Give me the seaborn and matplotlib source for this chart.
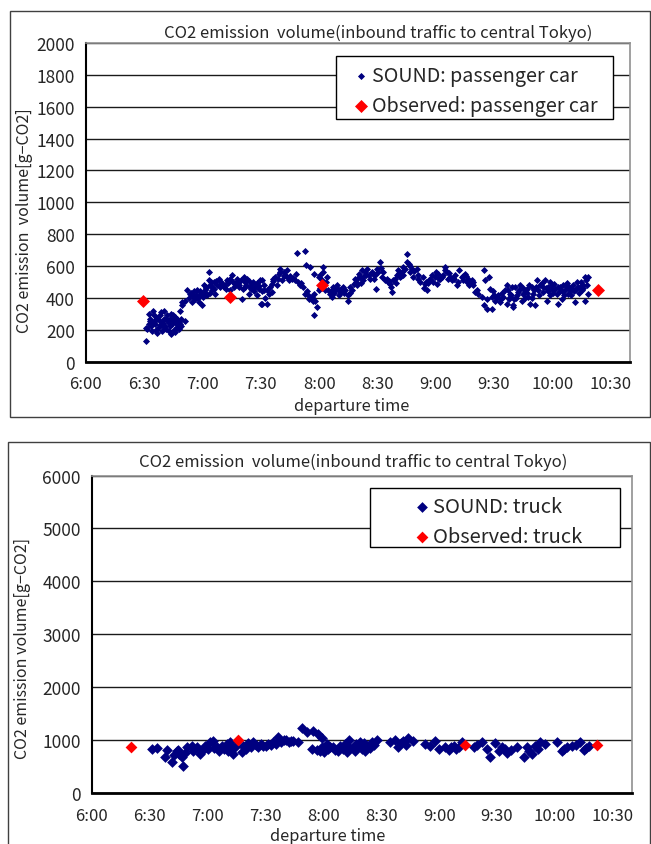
import matplotlib
matplotlib.use("Agg")
import matplotlib.pyplot as plt
import seaborn as sns
from matplotlib.patches import Rectangle

# departure time is stored as minutes after 6:00
car_min = [
    30.9, 32.2, 34.3, 38.7, 33.1, 35.7, 31.4, 33.9, 37.4, 40.0, 41.7, 43.9, 46.0, 47.7, 42.5, 46.0,
    40.8, 44.2, 38.2, 36.5, 39.1, 32.2, 46.8, 48.5, 50.7, 43.4, 34.8,
    31.0, 32.8, 35.2, 36.0, 37.9, 39.5, 41.0, 42.0, 43.0, 44.8, 45.5, 47.0, 48.0, 36.8, 44.0, 40.3,
    33.5, 38.0, 41.2, 45.0, 47.3, 49.0,
    48.5, 49.4, 49.4, 51.1, 52.0, 53.7, 54.5, 56.2, 57.1, 58.0, 59.7, 59.7, 61.4, 60.5, 63.1, 63.4,
    62.2, 64.8, 65.7, 67.4, 68.2, 66.5, 70.0, 70.8, 72.5, 75.1, 74.2, 76.8, 78.5, 79.9, 81.1, 82.8,
    83.7, 85.4, 87.1, 88.0, 90.2, 89.7, 91.4, 80.2,
    52.8, 54.0, 55.0, 56.8, 57.8, 58.8, 60.0, 61.0, 62.0, 63.8, 64.0, 65.0, 66.0, 67.0, 68.9, 69.5,
    71.5, 72.0, 73.3, 74.0, 75.8, 76.0, 77.5, 78.0, 79.0, 80.8, 81.8, 82.0, 84.0, 84.5, 86.0, 86.5,
    87.9, 88.8, 90.8,
    90.5, 91.4, 90.5, 93.1, 94.0, 93.1, 95.7, 95.7, 97.4, 99.1, 100.0, 101.7, 100.8, 98.2, 103.7,
    103.4, 106.0, 107.7, 108.2, 110.2, 108.5, 112.8, 113.3, 115.4, 112.8, 114.5, 116.2, 118.0, 118.8,
    117.4, 117.1, 117.1, 119.7, 122.2, 121.9, 124.0, 121.4, 119.7, 123.1, 125.7, 126.5, 128.2, 129.1,
    130.8, 130.0, 132.5, 133.4, 134.6, 135.1, 136.0, 137.7, 138.5, 140.3, 142.0, 143.7, 144.5, 147.1,
    148.8, 149.7, 151.1, 152.3, 154.0, 149.3, 139.4, 142.8,
    92.0, 94.8, 96.5, 98.9, 102.0, 104.5, 105.0, 109.0, 111.5, 113.8, 115.0, 116.8, 120.5, 121.0,
    124.8, 127.0, 127.8, 131.5, 133.0, 136.8, 139.0, 141.0, 141.5, 143.0, 145.5, 146.0, 148.0, 150.5,
    153.0,
    154.8, 156.5, 157.4, 158.2, 160.0, 160.8, 161.7, 162.5, 163.4, 165.1, 165.1, 166.0, 167.7, 168.5,
    170.3, 171.1, 173.7, 174.5, 175.4, 176.3, 178.0, 179.7, 180.5, 181.4, 183.1, 184.8, 185.7, 187.4,
    188.3, 190.0, 190.8, 192.0, 193.4, 195.1, 196.0, 196.8, 198.6, 199.4, 200.3, 202.0, 203.7, 205.1,
    205.4, 207.5, 208.0, 206.3, 204.6, 206.3, 208.8, 208.8, 210.6, 212.3, 213.1, 214.8, 215.7, 216.6,
    218.3, 219.1, 220.0, 220.5,
    155.5, 157.0, 159.0, 159.5, 161.0, 163.0, 164.0, 167.0, 169.0, 172.0, 174.0, 176.0, 177.0, 178.8,
    180.0, 182.0, 183.8, 186.5, 187.0, 189.0, 191.5, 194.0, 195.5, 197.5, 199.0, 201.0, 209.5, 211.5,
    214.0, 217.5,
    216.6, 217.4, 218.3, 220.0, 220.8, 222.6, 223.4, 224.3, 225.1, 226.8, 227.7, 228.6, 229.4, 230.3,
    231.1, 232.0, 232.9, 233.7, 235.4, 236.3, 237.1, 238.0, 238.9, 239.7, 241.4, 242.3, 243.1, 244.0,
    244.9, 246.6, 247.4, 248.3, 250.0, 250.9, 251.7, 252.6, 254.3, 255.5, 256.9, 256.9, 257.7, 258.6,
    258.2,
    219.0, 221.5, 223.0, 224.8, 226.0, 227.0, 228.0, 229.8, 231.8, 233.0, 234.5, 236.8, 237.8, 239.0,
    240.5, 241.0, 242.8, 243.8, 245.5, 246.0, 247.8, 249.0, 249.8, 251.2, 253.0, 254.0, 255.0, 256.0,
    257.2,
    # extra fill for the densest stretches
    34.0, 36.2, 39.8, 42.8, 45.8, 48.8, 55.6, 58.4, 61.8, 64.4, 69.0, 73.0, 77.0, 82.4, 85.0, 89.0,
    96.0, 99.6, 102.6, 106.8, 110.8, 120.2, 123.6, 126.0, 129.6, 132.0, 135.8, 140.0, 144.0, 147.6,
    151.6, 156.0, 162.0, 166.8, 170.8, 175.0, 181.8, 185.0, 189.6, 193.8, 197.0, 210.0, 213.6, 222.0,
    225.8, 230.8, 235.0, 240.0, 245.0, 248.8, 252.0, 255.8,
]
car_co2 = [
    127, 299, 320, 310, 257, 236, 205, 194, 215, 268, 289, 299, 278, 247, 194, 184,
    226, 236, 253, 274, 190, 236, 215, 236, 257, 268, 289,
    210, 270, 250, 200, 295, 240, 205, 255, 225, 260, 200, 265, 205, 180, 175, 320,
    220, 230, 270, 290, 228, 270,
    320, 352, 373, 383, 447, 426, 373, 394, 447, 373, 426, 356, 447, 478, 562, 514,
    415, 447, 499, 478, 520, 426, 489, 468, 510, 541, 447, 489, 468, 510, 531, 520,
    426, 489, 468, 415, 362, 510, 478, 394,
    400, 430, 410, 420, 400, 440, 405, 430, 460, 480, 430, 470, 455, 505, 465, 500,
    480, 455, 495, 520, 500, 470, 520, 495, 480, 455, 500, 470, 505, 470, 500, 440,
    490, 455, 440,
    510, 447, 362, 362, 426, 447, 436, 489, 531, 552, 583, 562, 510, 478, 573,
    531, 520, 510, 552, 478, 684, 695, 604, 594, 426, 415, 405, 383, 341,
    293, 426, 552, 531, 594, 562, 531, 510, 447, 447, 426, 405, 447, 478,
    436, 415, 468, 447, 383, 415, 468, 489, 520, 552, 573, 562, 583, 562,
    541, 583, 625, 531, 510, 457, 478, 510,
    400, 470, 505, 520, 540, 510, 540, 500, 470, 440, 395, 380, 460, 480,
    450, 470, 430, 455, 430, 450, 500, 530, 495, 540, 545, 520, 520, 560,
    560,
    520, 489, 436, 510, 541, 573, 531, 562, 594, 674, 625, 615, 583, 531,
    583, 520, 531, 489, 447, 510, 541, 531, 489, 552, 531, 594, 562, 531,
    510, 541, 478, 573, 531, 552, 499, 520, 510, 478, 436, 426, 405, 573,
    510, 531, 457, 394, 352, 331, 331, 405, 383, 415, 373, 405, 447, 362,
    426, 468, 352, 394,
    500, 470, 520, 495, 555, 545, 580, 560, 570, 500, 460, 490, 520, 500,
    560, 515, 545, 520, 555, 525, 500, 510, 535, 490, 500, 450, 440, 400,
    430, 390,
    478, 447, 405, 341, 468, 436, 478, 383, 426, 457, 405, 362, 468, 426,
    352, 510, 447, 478, 436, 510, 383, 468, 415, 478, 457, 426, 362, 468,
    394, 447, 468, 426, 457, 478, 373, 499, 468, 447, 531, 383, 478, 531,
    426,
    420, 400, 450, 460, 400, 430, 480, 400, 470, 420, 490, 460, 440, 500,
    430, 485, 470, 440, 480, 420, 495, 450, 420, 440, 470, 430, 500, 460,
    510,
    245, 265, 220, 240, 250, 225, 440, 415, 470, 500, 480, 505, 490, 480, 455, 475,
    520, 560, 545, 525, 490, 545, 500, 440, 455, 445, 430, 525, 545, 550,
    590, 505, 540, 600, 545, 500, 520, 575, 520, 540, 480, 420, 390, 420,
    440, 450, 470, 455, 440, 470, 455, 480,
]
car_obs_min = [29.1, 74.2, 121.5, 263.4]
car_obs_co2 = [380, 405, 478, 451]

truck_min = [
    30.9, 33.5, 38.7, 37.8, 41.3, 43.9, 46.5, 47.0, 49.0, 51.7, 54.2, 56.0, 58.6, 61.2, 62.9, 64.6,
    67.2, 69.8, 71.6, 73.3, 74.2, 77.6, 78.5, 81.1, 83.7, 86.3, 88.9, 91.5, 94.1, 96.7, 99.3, 101.9,
    104.4, 107.0, 108.8, 111.4, 114.8, 117.4, 119.2, 114.0, 116.6, 119.2, 121.8, 123.5, 126.1, 128.7,
    131.3, 133.0, 135.6, 138.2, 140.8, 142.5,
    139.9, 142.5, 145.1, 147.7, 154.6, 157.2, 158.9, 161.5, 164.1, 166.7, 172.8, 175.4, 178.0, 179.7,
    183.1, 184.9, 187.5, 190.1, 191.8, 197.9, 202.2, 204.8, 206.5, 209.1, 210.8, 212.6, 215.2, 220.4,
    223.8, 225.6, 228.1, 229.9, 232.5, 235.1, 241.1, 243.7, 246.3, 248.9, 253.2, 255.0, 257.6,
    63.5, 66.0, 68.5, 70.5, 72.0, 60.0, 57.5, 52.5, 48.0, 45.2, 42.5, 44.5, 80.0, 82.5, 85.0, 87.5,
    90.0, 93.0, 95.5, 98.0, 100.5, 103.0, 118.0, 120.5, 122.5, 125.0, 127.5, 130.0, 132.0, 134.0,
    136.5, 137.0, 139.0, 141.5, 144.0, 146.0, 160.0, 163.0, 185.9, 188.8, 199.5, 214.0, 217.0, 226.8,
    231.0, 244.8, 251.0, 256.3,
]
truck_co2 = [
    831, 843, 812, 673, 592, 787, 673, 516, 862, 893, 862, 736, 893, 956, 988, 862,
    893, 925, 956, 736, 862, 768, 893, 937, 956, 862, 893, 925, 956, 1051, 1000, 956,
    988, 956, 1227, 1145, 1164, 1114, 1038, 831, 812, 862, 925, 862, 812, 893,
    925, 1000, 862, 893, 937, 862,
    831, 893, 956, 1000, 956, 1000, 862, 988, 1038, 975, 925, 893, 975, 831,
    862, 812, 893, 862, 956, 862, 956, 831, 686, 937, 799, 862, 749, 862,
    686, 862, 736, 893, 956, 925, 956, 799, 862, 893, 956, 812, 893,
    850, 800, 840, 800, 880, 830, 810, 800, 760, 740, 720, 820, 840, 870, 900, 930,
    880, 900, 930, 960, 1010, 980, 800, 780, 840, 860, 790, 830, 780, 850,
    800, 930, 960, 800, 850, 900, 940, 900, 860, 840, 900, 830, 810, 790,
    830, 830, 900, 850,
]
truck_obs_min = [20.0, 75.5, 193.5, 261.6]
truck_obs_co2 = [862, 1000, 912, 912]

tick_min = [0, 30, 60, 90, 120, 150, 180, 210, 240, 270]
tick_labels = ["6:00", "6:30", "7:00", "7:30", "8:00", "8:30", "9:00", "9:30", "10:00", "10:30"]

title = "CO2 emission  volume(inbound traffic to central Tokyo)"

sns.set_style("white")
plt.rcParams['font.family'] = ['Noto Sans CJK JP', 'DejaVu Sans']

W, H = 651, 845
fig = plt.figure(figsize=(W / 100, H / 100), dpi=100)


def fx(px):
    return px / W


def fy(py):
    return 1 - py / H


def box(x0, y0, x1, y1, z=1, face="none"):
    # rectangle given in pixel corners of the picture
    fig.add_artist(Rectangle((fx(x0), fy(y1)), fx(x1) - fx(x0), fy(y0) - fy(y1),
                             transform=fig.transFigure, facecolor=face,
                             edgecolor="black" if face != "none" else "#404040",
                             lw=1, zorder=z))


# outer frames of the two chart objects
box(9.5, 12, 650, 418)
box(7.5, 443, 650, 850)


def draw_panel(ax, t, v, obs_t, obs_v, ymax, ystep, s_sound, s_obs, lab_sound, lab_obs, edge):
    sns.scatterplot(x=t, y=v, marker="D", s=s_sound, color="#000080", edgecolor="#000080",
                    linewidth=edge, ax=ax, label=lab_sound, zorder=3)
    sns.scatterplot(x=obs_t, y=obs_v, marker="D", s=s_obs, color="#FF0000", linewidth=0,
                    ax=ax, label=lab_obs, zorder=4)
    ax.set_xlim(0, 280)
    ax.set_ylim(0, ymax)
    ax.set_xticks(tick_min)
    ax.set_xticklabels(tick_labels)
    ax.set_yticks(range(0, ymax + 1, ystep))
    ax.grid(axis="y", color="#1a1a1a", lw=1)
    ax.grid(axis="x", visible=False)
    ax.set_axisbelow(True)
    ax.tick_params(axis="x", direction="in", length=5, width=1, color="black",
                   pad=10, labelsize=12)
    ax.tick_params(axis="y", length=0, pad=8, labelsize=12.5)
    ax.spines["left"].set_color("black")
    ax.spines["left"].set_linewidth(1.5)
    ax.spines["bottom"].set_color("black")
    ax.spines["bottom"].set_linewidth(2)
    for side in ["top", "right"]:
        ax.spines[side].set_color("#909090")
        ax.spines[side].set_linewidth(1.2)
    ax.set_xlabel("")
    ax.set_ylabel("")
    handles, labels = ax.get_legend_handles_labels()
    ax.get_legend().remove()
    return handles, labels


def place_legend(handles, labels, frame, left, top, fs):
    box(*frame, z=3, face="white")
    fig.legend(handles, labels, loc="upper left", bbox_to_anchor=(fx(left), fy(top)),
               bbox_transform=fig.transFigure, frameon=False, borderpad=0,
               borderaxespad=0, fontsize=fs, handlelength=0.6, handletextpad=0.25,
               labelspacing=0.45)


ax1 = fig.add_axes([fx(86), fy(362.5), fx(630) - fx(86), fy(44) - fy(362.5)])
h1, l1 = draw_panel(ax1, car_min, car_co2, car_obs_min, car_obs_co2, 2000, 200, 9, 44,
                    "SOUND: passenger car", "Observed: passenger car", 0.6)
place_legend(h1, l1, (336, 57, 613, 120), 355, 66, 14.2)

ax2 = fig.add_axes([fx(92), fy(794), fx(632) - fx(92), fy(476.5) - fy(794)])
h2, l2 = draw_panel(ax2, truck_min, truck_co2, truck_obs_min, truck_obs_co2, 6000, 1000, 30, 36,
                    "SOUND: truck", "Observed: truck", 0)
place_legend(h2, l2, (370, 489, 620, 548), 416, 497, 14.5)

fig.text(fx(378), fy(33), title, ha="center", va="center", fontsize=12)
fig.text(fx(25), fy(221), "CO2 emission  volume[g\u2212CO2]", rotation=90,
         ha="center", va="center", fontsize=11.5)
fig.text(fx(352), fy(407), "departure time", ha="center", va="center", fontsize=11.8)

fig.text(fx(353), fy(462), title, ha="center", va="center", fontsize=12)
fig.text(fx(23), fy(649), "CO2 emission volume[g\u2212CO2]", rotation=90,
         ha="center", va="center", fontsize=11.5)
fig.text(fx(328), fy(837), "departure time", ha="center", va="center", fontsize=11.8)

fig.savefig("out.png", dpi=100)
